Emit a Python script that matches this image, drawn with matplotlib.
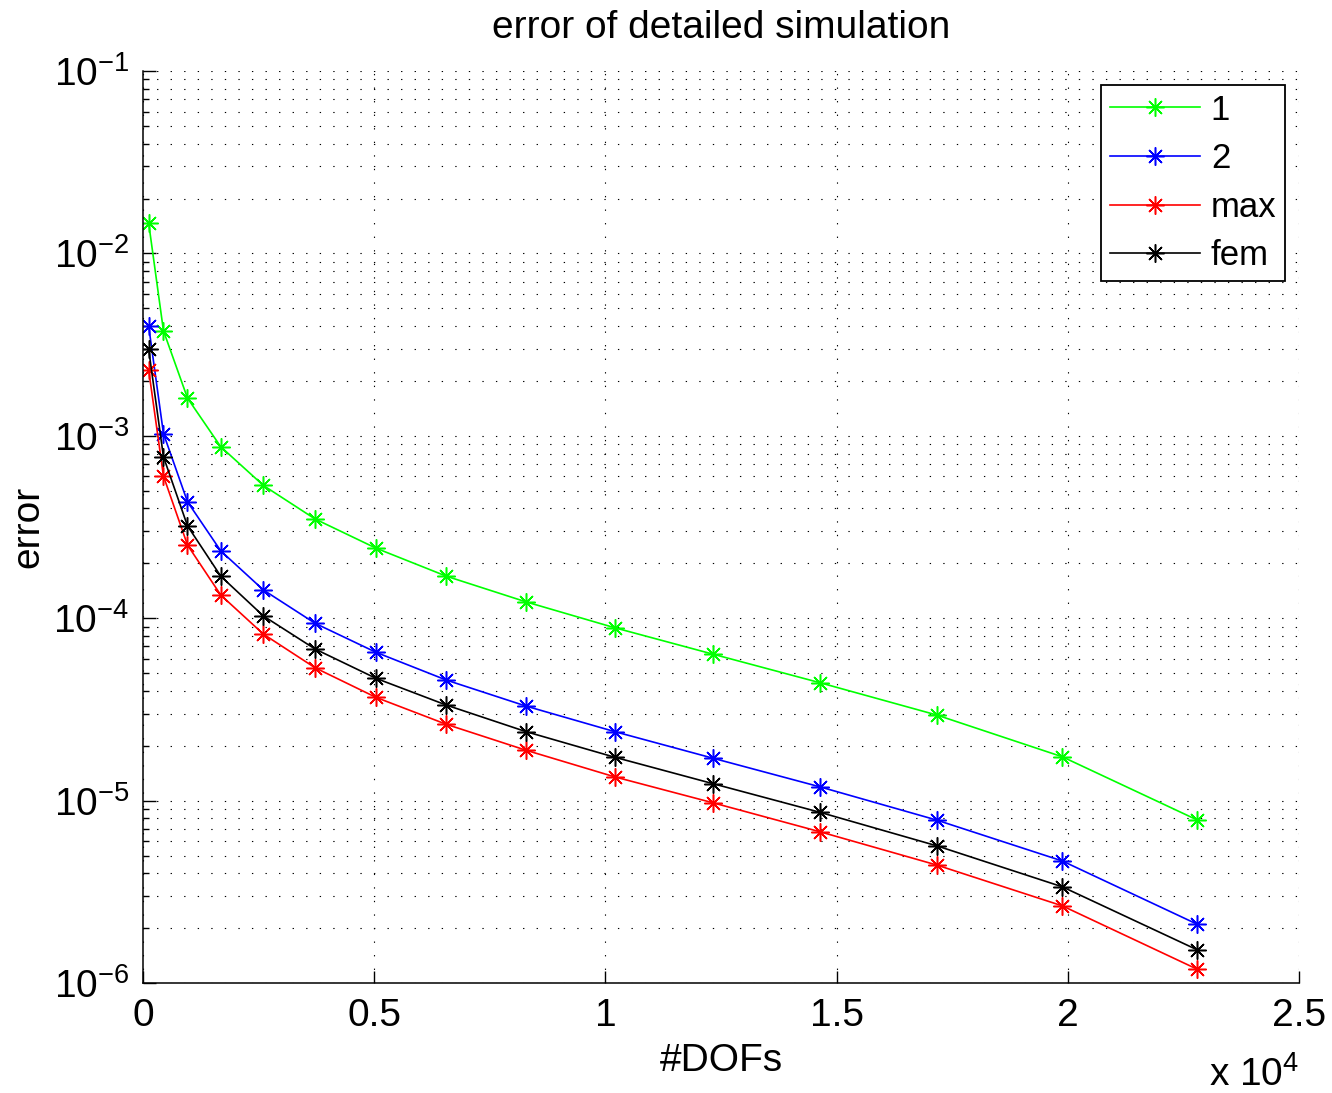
import matplotlib
matplotlib.use("Agg")
from matplotlib import pyplot as plt
from matplotlib.ticker import FuncFormatter, LogLocator, MultipleLocator

plt.rc('font', family=['Liberation Sans', 'DejaVu Sans'])
plt.rc('mathtext', fontset='custom', rm='Liberation Sans', it='Liberation Sans')

# number of degrees of freedom
dofs = [121, 441, 961, 1681, 2601, 3721, 5041, 6561, 8281, 10201,
        12321, 14641, 17161, 19881, 22801]

err_1 = [1.47e-2, 3.77e-3, 1.61e-3, 8.71e-4, 5.35e-4, 3.50e-4, 2.42e-4, 1.70e-4,
         1.23e-4, 8.87e-5, 6.36e-5, 4.43e-5, 2.95e-5, 1.74e-5, 7.83e-6]
err_2 = [4.0e-3, 1.03e-3, 4.35e-4, 2.34e-4, 1.43e-4, 9.38e-5, 6.50e-5, 4.58e-5,
         3.30e-5, 2.39e-5, 1.71e-5, 1.19e-5, 7.83e-6, 4.67e-6, 2.10e-6]
err_max = [2.30e-3, 6.02e-4, 2.52e-4, 1.34e-4, 8.19e-5, 5.35e-5, 3.68e-5, 2.62e-5,
           1.89e-5, 1.35e-5, 9.74e-6, 6.75e-6, 4.44e-6, 2.65e-6, 1.19e-6]
err_fem = [2.98e-3, 7.68e-4, 3.21e-4, 1.70e-4, 1.03e-4, 6.78e-5, 4.68e-5, 3.34e-5,
           2.39e-5, 1.73e-5, 1.24e-5, 8.63e-6, 5.66e-6, 3.37e-6, 1.52e-6]

labels = ['1', '2', 'max', 'fem']
colors = ['#00ff00', '#0000ff', '#ff0000', '#000000']

fig = plt.figure(figsize=(13.32, 10.93), dpi=100)
ax = fig.add_axes([0.1074, 0.1006, 0.8678, 0.8344])

star = (8, 2, 0)  # matlab-like asterisk
for ys, lab, c in zip([err_1, err_2, err_max, err_fem], labels, colors):
    ax.semilogy(dofs, ys, color=c, lw=1.2, marker=star, ms=13, mew=1.1, label=lab)

ax.set_xlim(0, 25000)
ax.set_ylim(1e-6, 1e-1)

ax.xaxis.set_major_locator(MultipleLocator(5000))
ax.xaxis.set_major_formatter(FuncFormatter(lambda v, p: '%g' % (v / 1e4)))
ax.yaxis.set_major_locator(LogLocator(base=10, numticks=10))
ax.yaxis.set_minor_locator(LogLocator(base=10, subs=range(2, 10), numticks=20))

ax.tick_params(axis='both', which='major', direction='in', length=9, width=1,
               labelsize=28)
ax.tick_params(axis='x', which='major', pad=11)
ax.tick_params(axis='y', which='major', pad=10)
ax.tick_params(axis='y', which='minor', direction='in', length=4.5, width=1)
ax.tick_params(axis='x', which='minor', bottom=False)

for s in ['top', 'right']:
    ax.spines[s].set_visible(False)
for s in ['left', 'bottom']:
    ax.spines[s].set_linewidth(1.1)

dots = dict(color='k', lw=0.8, linestyle=(0, (1.2, 11)))
ax.grid(True, which='major', axis='both', **dots)
ax.grid(True, which='minor', axis='y', **dots)

ax.set_title('error of detailed simulation', fontsize=28, pad=24)
ax.set_xlabel('#DOFs', fontsize=28, labelpad=6)
ax.set_ylabel('error', fontsize=28, labelpad=5)
ax.text(1.0, -0.113, r'x $10^4$', transform=ax.transAxes, ha='right',
        va='baseline', fontsize=28)

leg = ax.legend(loc='upper right', fontsize=25, handlelength=2.6,
                handletextpad=0.3, borderpad=0.25, labelspacing=0.45,
                framealpha=1, fancybox=False, borderaxespad=0.4)
leg.get_frame().set_edgecolor('k')
leg.get_frame().set_linewidth(1.3)

fig.savefig('out.png', dpi=100)
